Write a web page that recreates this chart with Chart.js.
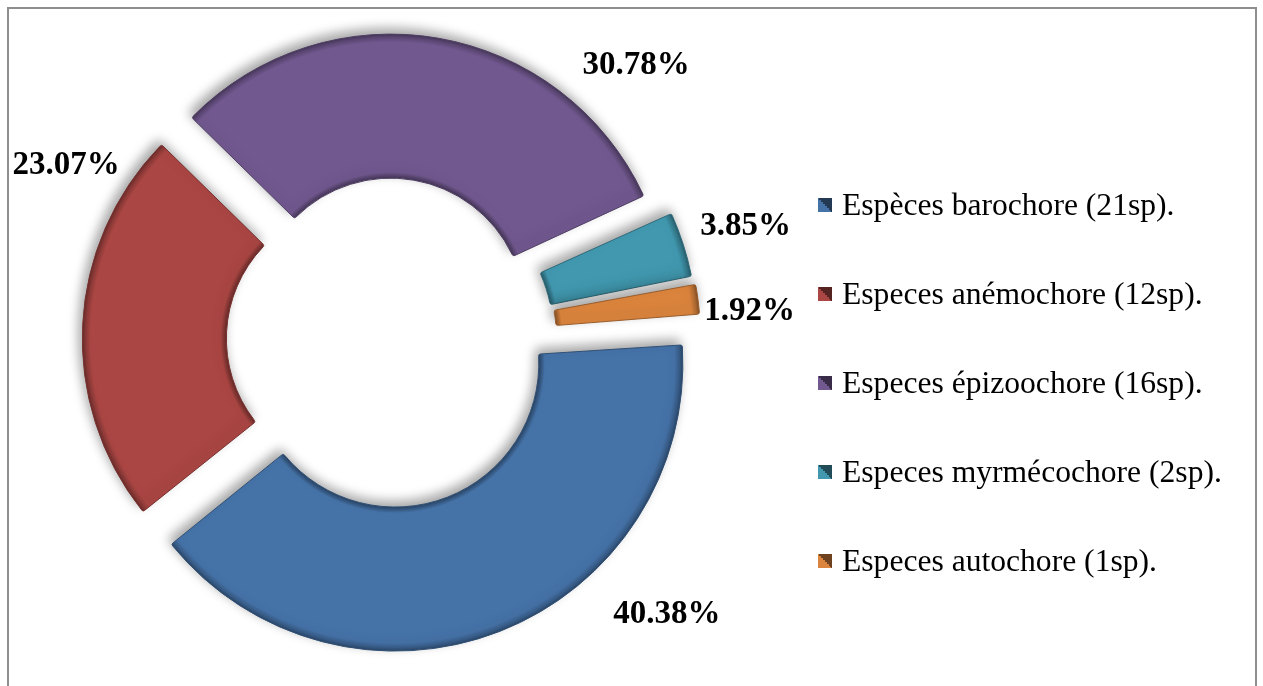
<!DOCTYPE html>
<html>
<head>
<meta charset="utf-8">
<script src="https://cdn.jsdelivr.net/npm/chart.js@4.4.1/dist/chart.umd.min.js"></script>
<style>
  html, body { margin: 0; padding: 0; background: #fff; overflow: hidden; }
  #wrap { position: relative; width: 1263px; height: 686px; }
  #frame { position: absolute; left: 7px; top: 7px; width: 1250px; height: 720px; border: 2px solid #8e8e8e; box-sizing: border-box; }
  canvas { position: absolute; left: 0; top: 0; }
  #legend { position: absolute; left: 818px; top: 0; font-family: "Liberation Serif", "Times New Roman", serif; font-size: 31.6px; color: #000; }
  .row { position: absolute; left: 0; height: 40px; display: flex; align-items: center; white-space: nowrap; }
  .sw { width: 14px; height: 14px; margin-right: 10px; flex: none; }
</style>
</head>
<body>
<div id="wrap">
  <div id="frame"></div>
  <canvas id="seedChart" width="1263" height="686"></canvas>
  <div id="legend"></div>
</div>
<script>
// dispersal modes and their share of the species (%)
const categories = [
  "Espèces barochore (21sp).",
  "Especes anémochore (12sp).",
  "Especes épizoochore (16sp).",
  "Especes myrmécochore (2sp).",
  "Especes autochore (1sp)."
];
const shares = [40.38, 23.07, 30.78, 3.85, 1.92];
const sliceColors = ["#4572A7", "#AA4643", "#71588F", "#4198AF", "#DB843D"];

// how far each slice is pulled out, and where its % label sits
const explode = [100, 106, 110, 80, 80];
const labelAngle = [134, 299, 42, 72, 85];
const labelDist = [1.41, 1.32, 1.35, 1.365, 1.318];

const total = shares.reduce((a, b) => a + b, 0);

function shade(hex, f) {
  const n = parseInt(hex.slice(1), 16);
  const ch = [(n >> 16) & 255, (n >> 8) & 255, n & 255];
  const m = v => Math.max(0, Math.min(255, Math.round(f < 1 ? v * f : v + (255 - v) * (f - 1))));
  return "rgb(" + ch.map(m).join(",") + ")";
}

// radial bevel: darker rims on the inner and outer edge of every slice
function sliceFill(context) {
  const i = context.dataIndex;
  const base = sliceColors[i];
  const chart = context.chart;
  const area = chart.chartArea;
  const ctrl = chart.getDatasetMeta(0).controller;
  if (!area || !ctrl || !ctrl.outerRadius) return base;
  const cx = (area.left + area.right) / 2;
  const cy = (area.top + area.bottom) / 2;
  const circ = shares[i] / total * Math.PI * 2;
  const grow = explode[i] / 4 * (1 - Math.sin(Math.min(Math.PI, circ)));
  const ro = ctrl.outerRadius + grow;
  const ri = ctrl.innerRadius + grow;
  const g = chart.ctx.createRadialGradient(cx, cy, ri, cx, cy, ro);
  const w = ro - ri;
  g.addColorStop(0, shade(base, 0.6));
  g.addColorStop(6 / w, base);
  g.addColorStop(1 - 8 / w, base);
  g.addColorStop(1 - 3 / w, shade(base, 0.8));
  g.addColorStop(1, shade(base, 0.6));
  return g;
}

// soft shadow thrown up and to the left of the slices
const sliceShadow = {
  id: "sliceShadow",
  beforeDatasetsDraw(chart) {
    const ctx = chart.ctx;
    ctx.save();
    ctx.shadowColor = "rgba(0,0,0,0.36)";
    ctx.shadowBlur = 12;
    ctx.shadowOffsetX = -3;
    ctx.shadowOffsetY = -5;
  },
  afterDatasetsDraw(chart) {
    chart.ctx.restore();
  }
};

const pctLabels = {
  id: "pctLabels",
  afterDraw(chart) {
    const ctx = chart.ctx;
    const arcs = chart.getDatasetMeta(0).data;
    ctx.save();
    ctx.font = 'bold 33px "Liberation Serif", "Times New Roman", serif';
    ctx.fillStyle = "#000";
    ctx.textAlign = "center";
    ctx.textBaseline = "middle";
    arcs.forEach((arc, i) => {
      const a = labelAngle[i] * Math.PI / 180;
      const d = arc.outerRadius * labelDist[i];
      ctx.fillText(shares[i].toFixed(2) + "%", arc.x + Math.sin(a) * d, arc.y - Math.cos(a) * d + 3);
    });
    ctx.restore();
  }
};

new Chart(document.getElementById("seedChart"), {
  type: "doughnut",
  data: {
    labels: categories,
    datasets: [{
      data: shares,
      backgroundColor: sliceFill,
      borderColor: sliceColors.map(c => shade(c, 0.7)),
      borderWidth: 1,
      borderRadius: 2,
      offset: explode,
      hoverOffset: 0,
      clip: false
    }]
  },
  options: {
    responsive: false,
    animation: false,
    events: [],
    rotation: 86,
    cutout: "48%",
    radius: 277,
    layout: { padding: { left: 0, right: 491, top: 0, bottom: 6 } },
    plugins: {
      tooltip: { enabled: false },
      legend: { display: false }
    }
  },
  plugins: [sliceShadow, pctLabels]
});

// legend column on the right
const legendEl = document.getElementById("legend");
const rowCentre = [205, 294, 383, 472, 561];
categories.forEach((name, i) => {
  const row = document.createElement("div");
  row.className = "row";
  row.style.top = (rowCentre[i] - 20) + "px";
  const sw = document.createElement("span");
  sw.className = "sw";
  sw.style.background = "linear-gradient(45deg, " + sliceColors[i] + " 50%, " + shade(sliceColors[i], 0.5) + " 50%)";
  const txt = document.createElement("span");
  txt.textContent = name;
  row.appendChild(sw);
  row.appendChild(txt);
  legendEl.appendChild(row);
});
</script>
</body>
</html>
